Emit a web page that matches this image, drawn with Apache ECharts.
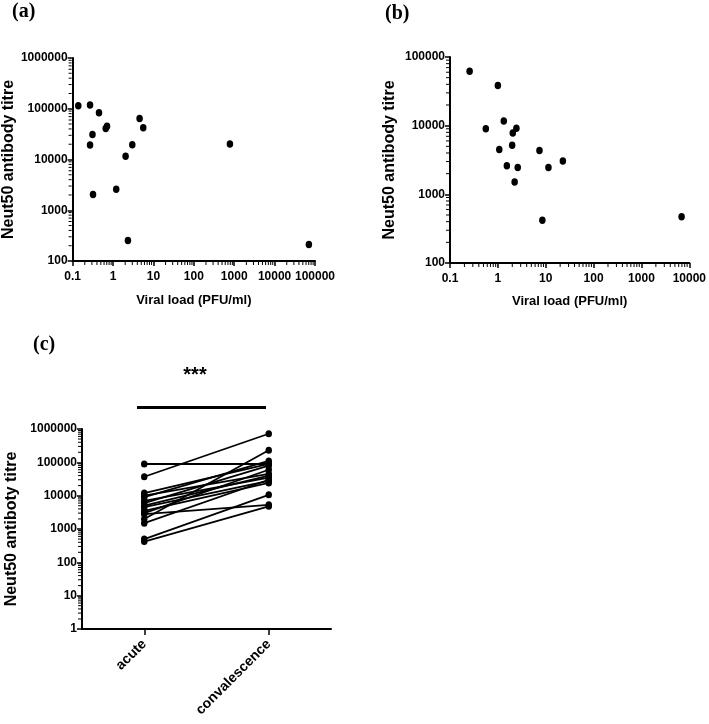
<!DOCTYPE html>
<html><head><meta charset="utf-8">
<script src="https://cdn.jsdelivr.net/npm/echarts@6/dist/echarts.min.js"></script>
<style>html,body{margin:0;padding:0;background:#fff}#c{width:709px;height:724px}</style>
</head><body><div id="c"></div><script>
// Panel (a)
const aViral = [0.138, 0.27, 0.45, 0.31, 0.27, 0.66, 0.71, 0.32, 1.2, 2.05, 3.0, 4.55, 5.6, 2.34, 783, 70600];
const aTitre = [114000, 119000, 83000, 31000, 19400, 41000, 45000, 2050, 2600, 11600, 19600, 64000, 42000, 253, 20200, 211];
// Panel (b)
const bViral = [0.257, 1.0, 1.33, 0.56, 2.44, 2.05, 1.99, 1.07, 7.4, 1.54, 2.6, 11.4, 22.8, 2.24, 8.5, 6900];
const bTitre = [62000, 38300, 11700, 9000, 9200, 7800, 5200, 4500, 4350, 2600, 2460, 2460, 3050, 1510, 418, 472];
// Panel (c)
const cCategories = ['acute', 'convalescence'];
const cAcute = [89000, 37000, 12000, 10000, 9000, 7000, 6000, 5000, 4500, 3500, 3000, 2800, 2000, 1500, 500, 420];
const cConv  = [89000, 720000, 90000, 45000, 110000, 35000, 80000, 40000, 28000, 24000, 60000, 5300, 230000, 30000, 10600, 4800];
const minorMultipliers = [2, 3, 4, 5, 6, 7, 8, 9];

const FONT = '"Liberation Sans", Arial, sans-serif';
const SERIF = '"Liberation Serif", "Times New Roman", serif';
const chart = echarts.init(document.getElementById('c'));

function logLabel(v) { return String(+Number(v).toPrecision(6)); }
function minorValues(min, max) {
  const out = [];
  for (let d = Math.round(Math.log10(min)); d < Math.round(Math.log10(max)); d++) {
    minorMultipliers.forEach(m => out.push(+(m * Math.pow(10, d)).toPrecision(6)));
  }
  return out;
}
const axisLineStyle = { show: true, lineStyle: { color: '#000', width: 2 } };
const tickStyle = { show: true, inside: false, length: 5, lineStyle: { color: '#000', width: 1.5 } };
const labelStyle = { color: '#000', fontFamily: FONT, fontWeight: 'bold', fontSize: 12 };
const nameStyle = (size) => ({ color: '#000', fontFamily: FONT, fontWeight: 'bold', fontSize: size });

function logAxis(gi, min, max, name, gap, nameSize, margin, vertical) {
  return {
    type: 'log', logBase: 10, gridIndex: gi, min: min, max: max,
    name: name, nameLocation: 'middle', nameGap: gap, nameRotate: vertical ? 90 : 0,
    nameTextStyle: nameStyle(nameSize),
    axisLine: axisLineStyle, axisTick: tickStyle,
    axisLabel: Object.assign({ formatter: logLabel, margin: margin }, labelStyle),
    splitLine: { show: false }
  };
}

const dot = { type: 'scatter', symbol: 'circle', symbolSize: [6.5, 7.5], itemStyle: { color: '#000', opacity: 1 }, z: 3 };

const series = [
  Object.assign({}, dot, { xAxisIndex: 0, yAxisIndex: 0, data: aViral.map((v, i) => [v, aTitre[i]]) }),
  Object.assign({}, dot, { xAxisIndex: 1, yAxisIndex: 1, data: bViral.map((v, i) => [v, bTitre[i]]) })
];
cAcute.forEach((a, i) => {
  series.push({
    type: 'line', xAxisIndex: 2, yAxisIndex: 2, data: [a, cConv[i]],
    symbol: 'circle', symbolSize: [6.5, 7], showSymbol: true,
    lineStyle: { color: '#000', width: 1.8 }, itemStyle: { color: '#000', opacity: 1 }, z: 3
  });
});

const baseGraphic = [
  { type: 'text', left: 12, top: 2, style: { text: '(a)', font: 'bold 20px ' + SERIF, fill: '#000' } },
  { type: 'text', left: 385, top: 4, style: { text: '(b)', font: 'bold 20px ' + SERIF, fill: '#000' } },
  { type: 'text', left: 33, top: 335, style: { text: '(c)', font: 'bold 20px ' + SERIF, fill: '#000' } },
  { type: 'line', shape: { x1: 137, y1: 407.5, x2: 266, y2: 407.5 }, style: { stroke: '#000', lineWidth: 3 } },
  { type: 'text', x: 195, y: 375, style: { text: '***', font: 'bold 20px ' + FONT, fill: '#000', textAlign: 'center', textVerticalAlign: 'middle' } }
];

chart.setOption({
  animation: false,
  backgroundColor: '#fff',
  grid: [
    { left: 72, top: 58, width: 243, height: 203 },
    { left: 450, top: 57, width: 241, height: 206 },
    { left: 82, top: 429, width: 249, height: 200 }
  ],
  xAxis: [
    logAxis(0, 0.1, 100000, 'Viral load (PFU/ml)', 33, 13, 10, false),
    logAxis(1, 0.1, 10000, 'Viral load (PFU/ml)', 32, 13, 10, false),
    {
      type: 'category', gridIndex: 2, data: cCategories, boundaryGap: true,
      axisLine: axisLineStyle,
      axisTick: { show: true, alignWithLabel: true, length: 6, lineStyle: { color: '#000', width: 1.5 } },
      axisLabel: Object.assign({}, labelStyle, { rotate: 45, fontSize: 14, margin: 13 }),
      splitLine: { show: false }
    }
  ],
  yAxis: [
    logAxis(0, 100, 1000000, 'Neut50 antibody titre', 55, 16, 5, true),
    logAxis(1, 100, 100000, 'Neut50 antibody titre', 52, 16, 5, true),
    logAxis(2, 1, 1000000, 'Neut50 antiboty titre', 62, 16, 5, true)
  ],
  series: series,
  graphic: baseGraphic
});

// Minor (log 2..9) ticks, placed with the library's own axis scales
const minorGraphic = [];
function addYMinor(idx, xMin, yMin, yMax) {
  minorValues(yMin, yMax).forEach(v => {
    const p = chart.convertToPixel({ xAxisIndex: idx, yAxisIndex: idx }, [xMin, v]);
    minorGraphic.push({ type: 'line', silent: true, z: 10, shape: { x1: p[0] - 1, y1: p[1], x2: p[0] - 4, y2: p[1] }, style: { stroke: '#000', lineWidth: 1 } });
  });
}
function addXMinor(idx, yMin, xMin, xMax) {
  minorValues(xMin, xMax).forEach(v => {
    const p = chart.convertToPixel({ xAxisIndex: idx, yAxisIndex: idx }, [v, yMin]);
    minorGraphic.push({ type: 'line', silent: true, z: 10, shape: { x1: p[0], y1: p[1] + 1, x2: p[0], y2: p[1] + 4 }, style: { stroke: '#000', lineWidth: 1 } });
  });
}
addYMinor(0, 0.1, 100, 1000000);
addXMinor(0, 100, 0.1, 100000);
addYMinor(1, 0.1, 100, 100000);
addXMinor(1, 100, 0.1, 10000);
(function () {
  minorValues(1, 1000000).forEach(v => {
    const y = chart.convertToPixel({ yAxisIndex: 2 }, v);
    const x = 82;
    minorGraphic.push({ type: 'line', silent: true, z: 10, shape: { x1: x - 1, y1: y, x2: x - 4, y2: y }, style: { stroke: '#000', lineWidth: 1 } });
  });
})();
chart.setOption({ graphic: baseGraphic.concat(minorGraphic) });
</script></body></html>
